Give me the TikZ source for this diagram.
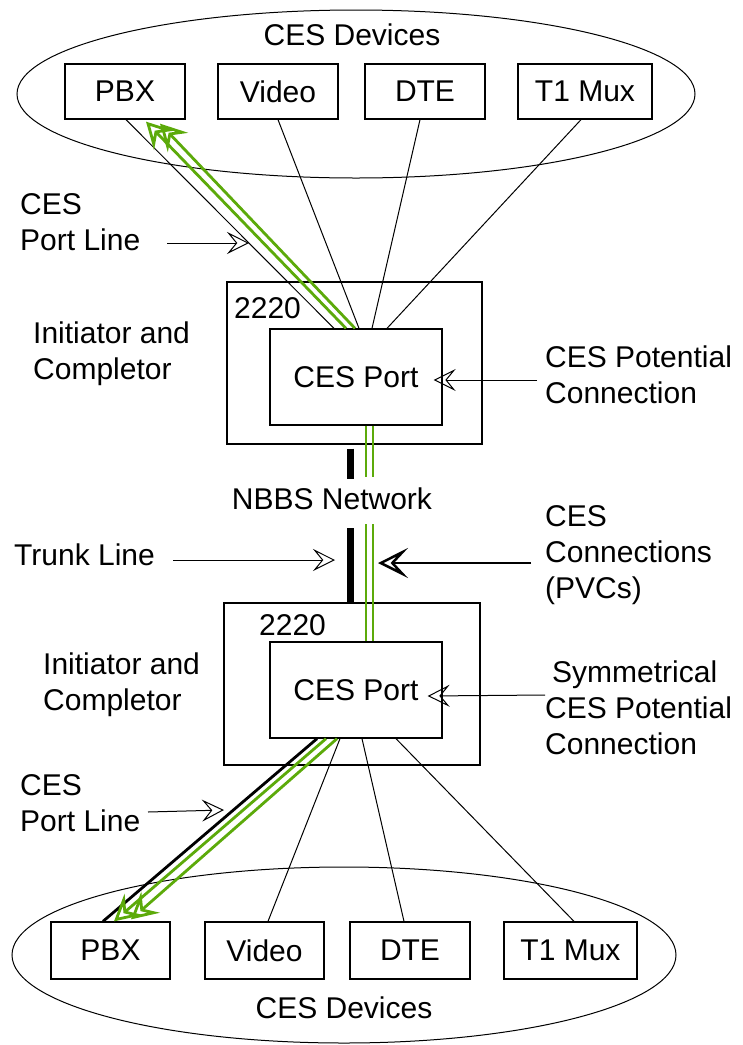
\documentclass[tikz,border=0pt]{standalone}
\usepackage{fontspec}
\setmainfont{Liberation Sans}
\usetikzlibrary{calc,shapes.geometric,arrows.meta}

\definecolor{cesgreen}{RGB}{92,170,10}

\begin{document}
\begin{tikzpicture}[x=1pt, y=-1pt, font=\fontsize{30}{36}\selectfont,
  devbox/.style={draw, line width=1.3pt, minimum height=55pt, inner sep=0pt},
  frame/.style={draw, line width=1.3pt, inner sep=0pt},
  txt/.style={inner sep=0pt, align=left, anchor=west},
  pointer/.style={line width=1pt, -{Stealth[open, length=22pt, width=22pt, inset=9pt]}},
  ces/.style={cesgreen, line width=2.8pt, -{Stealth[open, length=26pt, width=28pt, inset=10pt]}}]
  \useasboundingbox (0,0) rectangle (743,1045);
  \fill[white] (0,0) rectangle (743,1045);

  % upper device group
  \node[draw, ellipse, line width=1pt, minimum width=678pt, minimum height=168pt] (devT) at (356,94) {};
  \node[inner sep=0pt] (devTlbl) at (352,35) {CES Devices};
  \node[devbox, minimum width=120pt] (pbxT) at (125,91.5) {PBX};
  \node[devbox, minimum width=120pt] (vidT) at (278,91.5) {Video};
  \node[devbox, minimum width=120pt] (dteT) at (425,91.5) {DTE};
  \node[devbox, minimum width=134pt] (t1T) at (585,91.5) {T1 Mux};

  % upper 2220
  \node[frame, minimum width=255pt, minimum height=162pt] (modT) at (354.5,363) {};
  \node[frame, minimum width=172pt, minimum height=96pt] (portT) at (356,377) {CES Port};
  \node[txt] (numT) at (234,308) {2220};

  % lower 2220
  \node[frame, minimum width=256pt, minimum height=162pt] (modB) at (352,684) {};
  \node[frame, minimum width=172pt, minimum height=96pt] (portB) at (356,690) {CES Port};
  \node[txt] (numB) at (259,625) {2220};

  % lower device group
  \node[draw, ellipse, line width=1pt, minimum width=664pt, minimum height=176pt] (devB) at (344,955) {};
  \node[inner sep=0pt] (devBlbl) at (344,1008) {CES Devices};
  \node[devbox, minimum width=119pt, minimum height=57pt] (pbxB) at (110.5,950.5) {PBX};
  \node[devbox, minimum width=119pt, minimum height=57pt] (vidB) at (264.5,950.5) {Video};
  \node[devbox, minimum width=120pt, minimum height=57pt] (dteB) at (410,950.5) {DTE};
  \node[devbox, minimum width=133pt, minimum height=57pt] (t1B) at (570.5,950.5) {T1 Mux};

  % side labels
  \node[inner sep=0pt] (net) at (332,499) {NBBS Network};
  \node[txt] (lineT) at (20,222) {CES\\Port Line};
  \node[txt] (initT) at (33,354) {Initiator and\\Completor};
  \node[txt] (potT) at (545,375) {CES Potential\\Connection};
  \node[txt] (trunk) at (14,555) {Trunk Line};
  \node[txt] (pvc) at (545,555) {CES\\Connections\\(PVCs)};
  \node[txt] (initB) at (43,685) {Initiator and\\Completor};
  \node[txt] (potB) at (545,708) {\hspace*{7pt}Symmetrical\\CES Potential\\Connection};
  \node[txt] (lineB) at (20,803) {CES\\Port Line};

  % port lines, upper
  \draw[line width=1pt] ($(pbxT.south)+(1,0)$) -- ($(portT.north)+(-22,0)$);
  \draw[line width=1pt] (vidT.south) -- ($(portT.north)+(3,0)$);
  \draw[line width=1pt] ($(dteT.south)+(-5,0)$) -- ($(portT.north)+(16,0)$);
  \draw[line width=1pt] ($(t1T.south)+(-4,0)$) -- ($(portT.north)+(31,0)$);
  \draw[ces] ($(portT.north)+(-10,0)$) -- ($(pbxT.south)+(21,2)$);
  \draw[ces] ($(portT.north)+(-1,0)$) -- ($(pbxT.south)+(35,4)$);

  % trunk and connections through the network
  \coordinate (trkA) at (350,479);
  \coordinate (trkB) at (350,528);
  \coordinate (g1A) at (366,477);
  \coordinate (g2A) at (373,477);
  \coordinate (g1B) at (366,524);
  \coordinate (g2B) at (373,524);
  \draw[line width=7pt] ($(modT.south)+(-4.5,4)$) -- (trkA);
  \draw[line width=7pt] (trkB) -- ($(modB.north)+(-2,0)$);
  \draw[cesgreen, line width=2.8pt] ($(portT.south)+(10,0)$) -- (g1A);
  \draw[cesgreen, line width=2.8pt] ($(portT.south)+(17,0)$) -- (g2A);
  \draw[cesgreen, line width=2.8pt] (g1B) -- ($(portB.north)+(10,0)$);
  \draw[cesgreen, line width=2.8pt] (g2B) -- ($(portB.north)+(17,0)$);

  % port lines, lower
  \draw[line width=2.8pt] ($(portB.south)+(-39,0)$) -- ($(pbxB.north)+(-7.5,0)$);
  \draw[line width=1pt] ($(portB.south)+(-16,0)$) -- ($(vidB.north)+(3.5,0)$);
  \draw[line width=1pt] ($(portB.south)+(6,0)$) -- ($(dteB.north)+(-6,0)$);
  \draw[line width=1pt] ($(portB.south)+(40,0)$) -- ($(t1B.north)+(3.5,0)$);
  \draw[ces] ($(portB.south)+(-30,0)$) -- ($(pbxB.north)+(3.5,0)$);
  \draw[ces] ($(portB.south)+(-19,0)$) -- ($(pbxB.north)+(20.5,-2)$);

  % pointers
  \coordinate (pT) at (167,243);
  \coordinate (pB) at (148,812);
  \coordinate (pTrk) at (173,560);
  \coordinate (pPvc) at (531,563);
  \draw[pointer] (pT) -- (249,243);
  \draw[pointer] ($(potT.west)+(-8,5)$) -- ($(portT.east)+(-9,3)$);
  \draw[pointer] (pTrk) -- (335,560);
  \draw[line width=2.5pt, -{Stealth[open, length=30pt, width=30pt, inset=14pt]}] (pPvc) -- (378,563);
  \draw[pointer] ($(potB.west)+(0,-13)$) -- ($(portB.east)+(-15,6)$);
  \draw[pointer] (pB) -- (224,810);
\end{tikzpicture}
\end{document}
